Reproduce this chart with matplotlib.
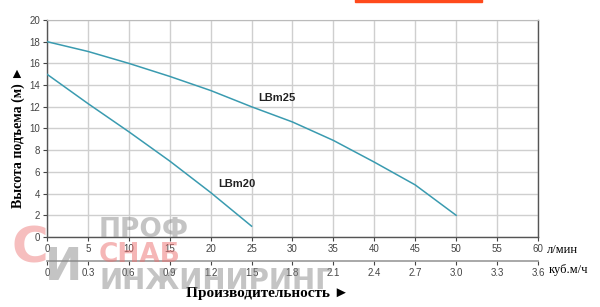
import matplotlib.pyplot as plt
from matplotlib.patches import Rectangle

# flow in l/min, head in m
flow_lbm25 = [0, 5, 10, 15, 20, 25, 30, 35, 40, 45, 50]
head_lbm25 = [18.0, 17.1, 16.0, 14.8, 13.5, 12.0, 10.6, 8.9, 6.9, 4.8, 2.0]
flow_lbm20 = [0, 5, 10, 15, 20, 25]
head_lbm20 = [15.0, 12.3, 9.7, 7.0, 4.1, 1.0]

lmin_ticks = list(range(0, 61, 5))
m3h_ticks = [0, 0.3, 0.6, 0.9, 1.2, 1.5, 1.8, 2.1, 2.4, 2.7, 3.0, 3.3, 3.6]
m3h_labels = ['0', '0.3', '0.6', '0.9', '1.2', '1.5', '1.8', '2.1', '2.4', '2.7', '3.0', '3.3', '3.6']
head_ticks = list(range(0, 21, 2))

line_color = '#3a9bb0'
tick_color = '#444444'

fig = plt.figure(figsize=(6, 3.07), dpi=100)
ax = fig.add_axes([0.0783, 0.228, 0.8183, 0.707])

ax.plot(flow_lbm25, head_lbm25, color=line_color, lw=1.1, zorder=3)
ax.plot(flow_lbm20, head_lbm20, color=line_color, lw=1.1, zorder=3)
ax.text(25.8, 12.8, 'LBm25', fontsize=8, fontweight='bold', color='#222222',
        family='Liberation Sans', ha='left', va='center')
ax.text(20.9, 4.9, 'LBm20', fontsize=8, fontweight='bold', color='#222222',
        family='Liberation Sans', ha='left', va='center')

ax.set_xlim(0, 60)
ax.set_ylim(0, 20)
ax.set_xticks(lmin_ticks)
ax.set_yticks(head_ticks)
ax.grid(True, color='#cfcfcf', lw=1)
ax.set_axisbelow(True)
for side in ['left', 'bottom', 'right']:
    ax.spines[side].set_color('#555555')
    ax.spines[side].set_linewidth(1)
ax.spines['top'].set_color('#bbbbbb')
ax.tick_params(axis='both', labelsize=7, colors=tick_color, length=3, width=0.8,
               direction='out', pad=2)
for lbl in ax.get_xticklabels() + ax.get_yticklabels():
    lbl.set_family('Liberation Sans')

# second flow scale in m3/h
sec = ax.secondary_xaxis(-0.11, functions=(lambda x: x * 0.06, lambda x: x / 0.06))
sec.set_xticks(m3h_ticks, m3h_labels)
sec.spines['bottom'].set_color('#999999')
sec.spines['bottom'].set_linewidth(1.2)
sec.tick_params(labelsize=7, colors=tick_color, length=3, width=0.8, pad=2)
for lbl in sec.get_xticklabels():
    lbl.set_family('Liberation Sans')

serif = ['Liberation Serif', 'DejaVu Serif']
fig.text(0.912, 0.185, 'л/мин', fontsize=9, family=serif, ha='left', va='center')
fig.text(0.915, 0.121, 'куб.м/ч', fontsize=9, family=serif, ha='left', va='center')
fig.text(0.445, 0.045, 'Производительность ►', fontsize=11, fontweight='bold',
         family=serif, ha='center', va='center')
fig.text(0.03, 0.554, 'Высота подъема (м) ►', fontsize=10, fontweight='bold',
         family=serif, rotation=90, ha='center', va='center')

# watermark
wm_gray = '#8a8a8a'
wm_red = '#ec6f6f'
fig.text(0.165, 0.25, 'ПРОФ', fontsize=19, fontweight='bold', color=wm_gray, alpha=0.5,
         family='DejaVu Sans', ha='left', va='center', zorder=10)
fig.text(0.165, 0.168, 'СНАБ', fontsize=19, fontweight='bold', color=wm_red, alpha=0.5,
         family='DejaVu Sans', ha='left', va='center', zorder=10)
fig.text(0.165, 0.085, 'ИНЖИНИРИНГ', fontsize=20, fontweight='bold', color=wm_gray, alpha=0.5,
         family='DejaVu Sans', ha='left', va='center', zorder=10)
fig.text(0.02, 0.19, 'С', fontsize=36, fontweight='bold', color=wm_red, alpha=0.45,
         family='DejaVu Sans', ha='left', va='center', zorder=10)
fig.text(0.075, 0.13, 'И', fontsize=32, fontweight='bold', color=wm_gray, alpha=0.5,
         family='DejaVu Sans', ha='left', va='center', zorder=10)

fig.patches.append(Rectangle((0.592, 0.993), 0.212, 0.01, transform=fig.transFigure,
                             color='#ff4a1c', zorder=5))

fig.savefig('out.png', dpi=100)
